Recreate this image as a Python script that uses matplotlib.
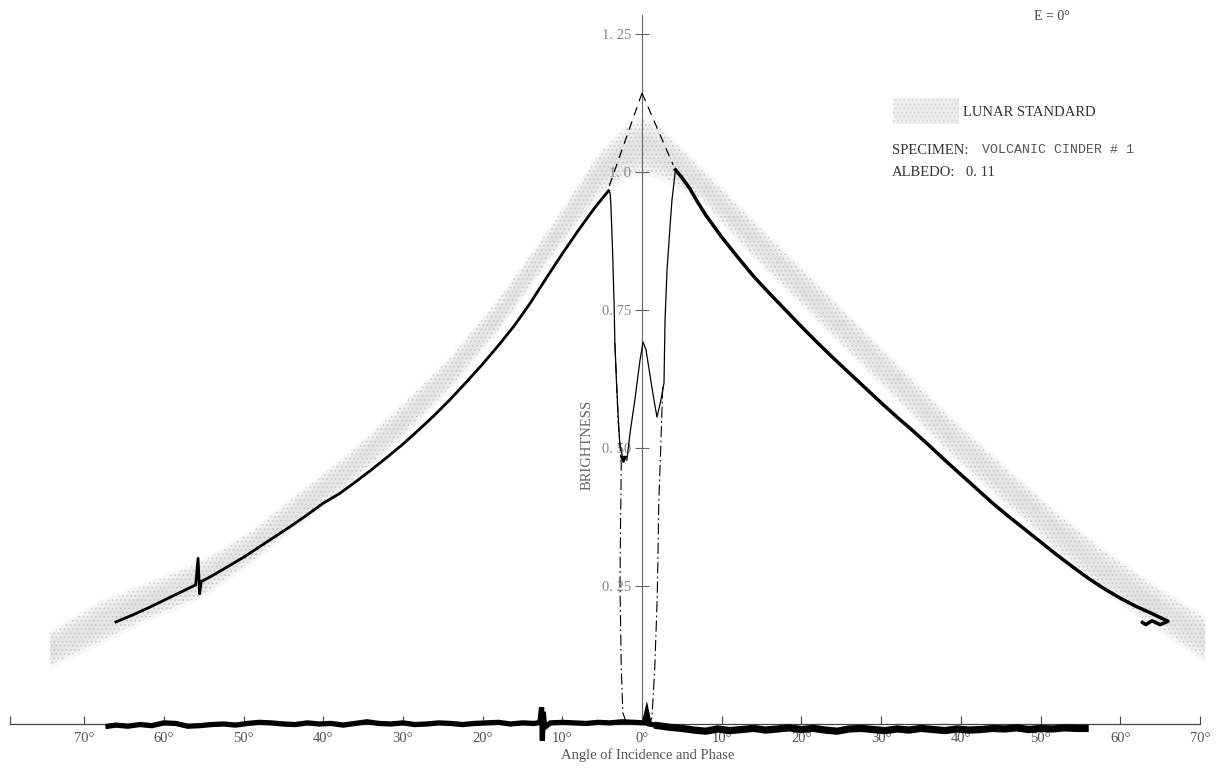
import matplotlib
matplotlib.use("Agg")
import matplotlib.pyplot as plt
from matplotlib.patches import Patch

# ---------------------------------------------------------------------------
# Photometric scan of volcanic cinder #1 against the lunar standard (E = 0°)
# Angles: negative = incidence side, positive = phase side (degrees)
# ---------------------------------------------------------------------------

# Lunar standard envelope (lower / upper brightness)
band_angle = [-74.3, -68.0, -61.7, -55.5, -49.2, -42.9, -36.6, -30.4, -24.1,
              -17.8, -11.5, -5.3, -2.1, 0.0, 2.3, 7.3, 13.5, 19.8, 26.1,
              32.4, 38.6, 44.9, 51.2, 57.5, 63.7, 70.6]
band_low = [0.101, 0.143, 0.188, 0.225, 0.288, 0.361, 0.433, 0.514, 0.605,
            0.714, 0.841, 0.958, 0.986, 0.995, 0.986, 0.949, 0.850, 0.759,
            0.668, 0.578, 0.487, 0.406, 0.324, 0.243, 0.179, 0.112]
band_high = [0.170, 0.225, 0.261, 0.297, 0.351, 0.424, 0.496, 0.578, 0.668,
             0.777, 0.904, 1.040, 1.085, 1.103, 1.085, 1.013, 0.922, 0.832,
             0.741, 0.650, 0.560, 0.478, 0.397, 0.324, 0.261, 0.197]

# Specimen brightness, incidence branch
left_angle = [-66.0, -64.0, -62.0, -60.0, -58.0, -56.0, -55.7, -55.5, -55.3,
              -54.0, -52.0, -50.0, -48.0, -46.0, -44.0, -42.0, -40.0, -38.0,
              -36.0, -34.0, -32.0, -30.0, -28.0, -26.0, -24.0, -22.0, -20.0,
              -18.0, -16.0, -14.0, -12.0, -10.0, -8.0, -6.0, -5.0, -4.2]
left_value = [0.185, 0.197, 0.210, 0.224, 0.238, 0.252, 0.300, 0.236, 0.258,
              0.268, 0.285, 0.302, 0.321, 0.340, 0.359, 0.379, 0.400, 0.417,
              0.438, 0.460, 0.483, 0.507, 0.533, 0.560, 0.589, 0.620, 0.652,
              0.686, 0.722, 0.763, 0.808, 0.852, 0.894, 0.934, 0.952, 0.966]

# Specimen brightness, phase branch (with the short return stroke at the end)
right_angle = [4.2, 5.0, 6.0, 7.0, 8.0, 10.0, 12.0, 14.0, 16.0, 18.0, 20.0,
               22.0, 24.0, 26.0, 28.0, 30.0, 32.0, 34.0, 36.0, 38.0, 40.0,
               42.0, 44.0, 46.0, 48.0, 50.0, 52.0, 54.0, 56.0, 58.0, 60.0,
               62.0, 64.0, 66.0, 65.0, 64.0, 63.2, 62.8]
right_value = [1.004, 0.990, 0.970, 0.945, 0.922, 0.882, 0.846, 0.811, 0.780,
               0.750, 0.720, 0.691, 0.663, 0.636, 0.609, 0.582, 0.556, 0.531,
               0.505, 0.478, 0.452, 0.426, 0.400, 0.376, 0.353, 0.330, 0.307,
               0.285, 0.264, 0.245, 0.228, 0.213, 0.200, 0.186, 0.180, 0.187,
               0.180, 0.184]

# Opposition region detail
drop_left_angle = [-4.2, -4.0, -3.9, -3.7, -3.5, -3.4, -3.2, -3.0, -2.8, -2.4]
drop_left_value = [0.966, 0.962, 0.94, 0.86, 0.76, 0.69, 0.62, 0.56, 0.51,
                   0.48]
extrap_left_angle = [-3.4, -3.0, -2.6, -2.7, -2.76, -2.6, -2.4, -1.9]
extrap_left_value = [0.69, 0.55, 0.47, 0.35, 0.25, 0.10, 0.02, 0.0]
peak_angle = [-1.9, -1.5, -0.9, -0.25, 0.13, 0.5, 1.0, 1.5, 1.88, 2.38, 2.76,
              2.89, 3.14, 3.51, 3.76, 4.2]
peak_value = [0.478, 0.527, 0.587, 0.659, 0.692, 0.678, 0.632, 0.587, 0.556,
              0.587, 0.618, 0.732, 0.822, 0.900, 0.949, 1.004]
extrap_right_angle = [2.6, 2.35, 2.1, 2.0, 1.9, 1.6, 1.25, 1.0]
extrap_right_value = [0.61, 0.50, 0.40, 0.30, 0.225, 0.10, 0.013, 0.0]
dashed_left_angle = [0.0, -4.1]
dashed_left_value = [1.143, 0.975]
dashed_right_angle = [0.0, 3.9]
dashed_right_value = [1.143, 1.013]

# Dark-current trace along the baseline (incidence part, phase part)
trace_left_angle = [-67.0, -66.0, -64.5, -63.0, -61.5, -60.0, -58.5, -57.0,
                    -55.5, -54.0, -52.5, -51.0, -49.5, -48.0, -46.5, -45.0,
                    -43.5, -42.0, -40.5, -39.0, -37.5, -36.0, -34.5, -33.0,
                    -31.5, -30.0, -28.5, -27.0, -25.5, -24.0, -22.5, -21.0,
                    -19.5, -18.0, -16.5, -15.0, -13.5, -12.8, -12.6, -12.5,
                    -12.4, -12.2, -11.5, -10.0, -8.5, -7.0, -5.5, -4.0, -2.5,
                    -1.0, 0.3, 0.6, 0.9, 2.0]
trace_left_value = [-0.004, -0.002, -0.004, -0.001, -0.003, 0.002, 0.001,
                    -0.004, -0.003, -0.001, 0.000, -0.002, 0.001, 0.003,
                    0.002, 0.000, -0.001, 0.002, 0.000, 0.001, -0.002, 0.001,
                    0.004, 0.001, 0.000, 0.002, -0.001, 0.000, 0.002, 0.001,
                    -0.001, 0.001, 0.002, 0.003, 0.000, 0.002, 0.001, 0.003,
                    0.030, -0.030, 0.022, -0.006, 0.002, 0.003, 0.002, 0.001,
                    0.003, 0.002, 0.004, 0.003, 0.002, 0.020, 0.000, -0.003]
trace_right_angle = [2.0, 3.5, 5.0, 6.5, 8.0, 9.5, 11.0, 12.5, 14.0, 15.5,
                     17.0, 18.5, 20.0, 21.5, 23.0, 24.5, 26.0, 27.5, 29.0,
                     30.5, 32.0, 33.5, 35.0, 36.5, 38.0, 39.5, 41.0, 42.5,
                     44.0, 45.5, 47.0, 48.5, 50.0, 51.5, 53.0, 54.5, 55.6]
trace_right_value = [-0.003, -0.006, -0.008, -0.011, -0.013, -0.009, -0.012,
                     -0.010, -0.008, -0.011, -0.009, -0.007, -0.010, -0.008,
                     -0.011, -0.013, -0.009, -0.008, -0.010, -0.012, -0.009,
                     -0.011, -0.008, -0.010, -0.012, -0.009, -0.011, -0.010,
                     -0.008, -0.009, -0.007, -0.010, -0.008, -0.009, -0.007,
                     -0.008, -0.008]

x_ticks = [-70, -60, -50, -40, -30, -20, -10, 0, 10, 20, 30, 40, 50, 60, 70]
y_ticks = [0.25, 0.50, 0.75, 1.0, 1.25]
y_tick_labels = ["0. 25", "0. 50", "0. 75", "1. 0", "1. 25"]

SERIF = ["Liberation Serif", "DejaVu Serif"]
MONO = ["Liberation Mono", "DejaVu Sans Mono"]
BAND_GRAY = "#b0b0b0"
W, H = 1225, 768

plt.rcParams["font.family"] = SERIF
plt.rcParams["hatch.linewidth"] = 0.6
fig = plt.figure(figsize=(W / 100, H / 100), dpi=100)
ax = fig.add_axes([0, 0, 1, 1])
ax.set_facecolor("white")
ax.set_xlim(-642 / 7.97, (W - 642) / 7.97)
ax.set_ylim(-(H - 724) / 552, 724 / 552)

# lunar standard envelope: soft-edged stippled ribbon
centre = [(lo + hi) / 2 for lo, hi in zip(band_low, band_high)]
half = [(hi - lo) / 2 for lo, hi in zip(band_low, band_high)]
for s in (1.0, 0.8, 0.6, 0.4):
    ax.fill_between(band_angle,
                    [c - h * s for c, h in zip(centre, half)],
                    [c + h * s for c, h in zip(centre, half)],
                    color=BAND_GRAY, alpha=0.09, linewidth=0, zorder=1)
ax.fill_between(band_angle,
                [c - h * 0.85 for c, h in zip(centre, half)],
                [c + h * 0.85 for c, h in zip(centre, half)],
                facecolor="none", edgecolor="#c4c4c4", hatch="....",
                linewidth=0, zorder=1)

# specimen curves
ax.plot(left_angle, left_value, color="black", lw=2.0, zorder=4,
        solid_joinstyle="round")
ax.plot(right_angle, right_value, color="black", lw=2.5, zorder=4,
        solid_joinstyle="round")
ax.plot(drop_left_angle, drop_left_value, color="black", lw=0.9, zorder=4)
ax.plot([drop_left_angle[-1]], [drop_left_value[-1]], marker="v",
        color="black", ms=4, zorder=4)
ax.plot(peak_angle, peak_value, color="black", lw=0.9, zorder=4)
ax.plot(extrap_left_angle, extrap_left_value, color="black", lw=0.8,
        ls=(0, (10, 3, 1.5, 3)), zorder=4)
ax.plot(extrap_right_angle, extrap_right_value, color="black", lw=0.8,
        ls=(0, (10, 3, 1.5, 3)), zorder=4)
ax.plot(dashed_left_angle, dashed_left_value, color="black", lw=0.9,
        ls=(0, (7, 5)), zorder=4)
ax.plot(dashed_right_angle, dashed_right_value, color="black", lw=0.9,
        ls=(0, (7, 5)), zorder=4)

# baseline trace
ax.plot(trace_left_angle, trace_left_value, color="black", lw=3.8, zorder=5,
        solid_joinstyle="miter")
ax.plot(trace_right_angle, trace_right_value, color="black", lw=5.2, zorder=5,
        solid_joinstyle="miter")

# axes through the origin
for side in ("top", "right"):
    ax.spines[side].set_visible(False)
ax.spines["left"].set_position(("data", 0))
ax.spines["bottom"].set_position(("data", 0))
ax.spines["left"].set_bounds(0, 1.285)
ax.spines["bottom"].set_bounds(-79.3, 70)
ax.spines["left"].set_color("#666666")
ax.spines["bottom"].set_color("#444444")
ax.spines["left"].set_linewidth(0.8)
ax.spines["bottom"].set_linewidth(0.9)

ax.set_xticks(x_ticks)
ax.set_xticklabels([f"{abs(v)}°" for v in x_ticks])
ax.set_xticks([-79.3], minor=True)
ax.tick_params(axis="x", which="both", direction="in", length=6, width=0.8,
               color="#444444", pad=6, labelsize=10.5, labelcolor="#555555")
ax.set_yticks(y_ticks)
ax.set_yticklabels(y_tick_labels)
ax.tick_params(axis="y", direction="inout", length=10, width=0.8,
               color="#666666", pad=3, labelsize=10.5, labelcolor="#888888")


def fx(px):
    return px / W


def fy(py):
    return 1 - py / H


fig.text(fx(587), fy(445), "BRIGHTNESS", rotation=90, ha="center",
         va="center", fontsize=10.5, color="#666666")
fig.text(fx(648), fy(755), "Angle of Incidence and Phase", ha="center",
         va="center", fontsize=10.5, color="#555555")
fig.text(fx(1052), fy(16), "E = 0°", ha="center", va="center", fontsize=10,
         color="#444444")

legend = ax.legend(handles=[Patch(facecolor="#d8d8d8", alpha=0.45,
                                  edgecolor="#bbbbbb", hatch="....",
                                  linewidth=0, label="LUNAR STANDARD")],
                   loc="upper left", bbox_to_anchor=(fx(893), fy(98)),
                   bbox_transform=fig.transFigure, frameon=False,
                   handlelength=4.5, handleheight=2.4, handletextpad=0.3,
                   borderpad=0, borderaxespad=0, fontsize=10.5)
for t in legend.get_texts():
    t.set_color("#333333")

fig.text(fx(892), fy(150), "SPECIMEN:", ha="left", va="center", fontsize=10.5,
         color="#333333")
fig.text(fx(982), fy(150), "VOLCANIC CINDER # 1", ha="left", va="center",
         fontsize=9.5, color="#555555", family=MONO)
fig.text(fx(892), fy(173), "ALBEDO:", ha="left", va="center", fontsize=10.5,
         color="#333333")
fig.text(fx(966), fy(173), "0. 11", ha="left", va="center", fontsize=10.5,
         color="#333333")

fig.savefig("out.png", dpi=100, facecolor="white")
